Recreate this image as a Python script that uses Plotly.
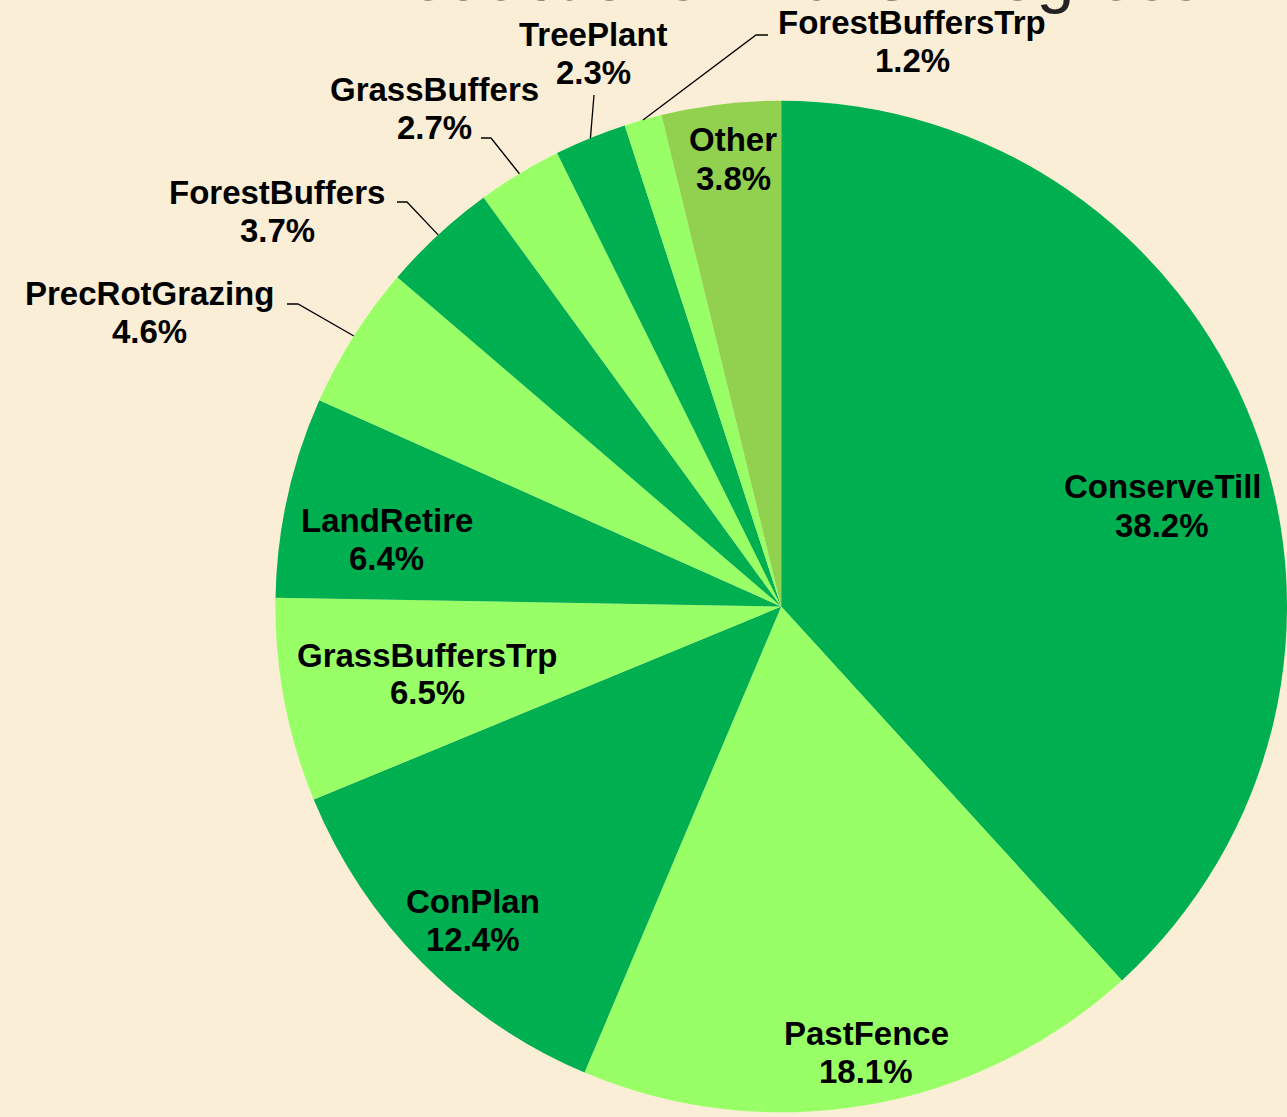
import math
import plotly.graph_objects as go

# ---- data ----
labels = ["ConserveTill", "PastFence", "ConPlan", "GrassBuffersTrp", "LandRetire",
          "PrecRotGrazing", "ForestBuffers", "GrassBuffers", "TreePlant",
          "ForestBuffersTrp", "Other"]
values = [38.2, 18.1, 12.4, 6.5, 6.4, 4.6, 3.7, 2.7, 2.3, 1.2, 3.8]
title_text = "N Reductions - 2025 Progress"

# ---- style ----
DARK, LIGHT, OTHER = "#00B050", "#99FF66", "#92D050"
colors = [DARK, LIGHT, DARK, LIGHT, DARK, LIGHT, DARK, LIGHT, DARK, LIGHT, OTHER]
W, H = 1287, 1117
BG = "#FAEED6"
FONT = "Liberation Sans, Arial, sans-serif"
FS = 33
LINE_GAP = 19  # half distance between the two label lines (px)
dom_x = [0.214, 1.0]
dom_y = [0.0, 0.914]

# label centres (pixels from top-left) -- layout only
label_pos = {
    "ConserveTill": (1162, 506),
    "PastFence": (866, 1052),
    "ConPlan": (473, 920),
    "GrassBuffersTrp": (427, 674),
    "LandRetire": (387, 539),
    "Other": (733, 159),
    "PrecRotGrazing": (149, 312),
    "ForestBuffers": (277, 211),
    "GrassBuffers": (434, 108),
    "TreePlant": (593, 54),
    "ForestBuffersTrp": (912, 42),
}
# leader line waypoints (text side) for outside labels: list of pixel points
leader_pts = {
    "PrecRotGrazing": [(287, 304), (298, 304)],
    "ForestBuffers": [(397, 202), (407, 202)],
    "GrassBuffers": [(481, 138), (491, 138)],
    "TreePlant": [(594, 95)],
    "ForestBuffersTrp": [(768, 35), (756, 35)],
}

fig = go.Figure(go.Pie(
    labels=labels, values=values, sort=False, direction="clockwise", rotation=0,
    marker=dict(colors=colors, line=dict(width=0)),
    textinfo="none", hoverinfo="label+percent", showlegend=False,
    domain=dict(x=dom_x, y=dom_y),
))

# geometry of the pie as plotly lays it out (margins are zero)
x0, x1 = dom_x[0] * W, dom_x[1] * W
y0, y1 = (1 - dom_y[1]) * H, (1 - dom_y[0]) * H
R = min(x1 - x0, y1 - y0) / 2
cx, cy = (x0 + x1) / 2, (y0 + y1) / 2


def px2paper(x, y):
    return x / W, 1 - y / H


total = sum(values)
annotations, shapes = [], []
cum = 0.0
for lab, v in zip(labels, values):
    mid = (cum + v / 2) / total * 2 * math.pi
    cum += v
    lx, ly = label_pos[lab]
    for txt, yy in ((lab, ly - LINE_GAP), (f"{v / total * 100:.1f}%", ly + LINE_GAP)):
        ax_, ay_ = px2paper(lx, yy)
        annotations.append(dict(x=ax_, y=ay_, xref="paper", yref="paper",
                                xanchor="center", yanchor="middle",
                                text=f"<b>{txt}</b>", showarrow=False,
                                font=dict(family=FONT, size=FS, color="black")))
    if lab in leader_pts:
        tip = (cx + R * math.sin(mid), cy - R * math.cos(mid))
        pts = leader_pts[lab] + [tip]
        path = "M " + " L ".join(f"{px2paper(*p)[0]:.5f},{px2paper(*p)[1]:.5f}" for p in pts)
        shapes.append(dict(type="path", path=path, xref="paper", yref="paper",
                           line=dict(color="black", width=1.3)))

# title, mostly cut off at the top edge as in the reference
annotations.append(dict(x=0.581, y=1 - 16.5 / H, xref="paper", yref="paper",
                        xanchor="center", yanchor="bottom", text=title_text,
                        showarrow=False, font=dict(family=FONT, size=68, color="#222")))

fig.update_layout(
    width=W, height=H,
    margin=dict(l=0, r=0, t=0, b=0),
    paper_bgcolor=BG, plot_bgcolor=BG,
    annotations=annotations, shapes=shapes,
)

fig.write_html("out.html", config={"displayModeBar": False},
               post_script="document.body.style.margin='0';document.body.style.overflow='hidden';")
